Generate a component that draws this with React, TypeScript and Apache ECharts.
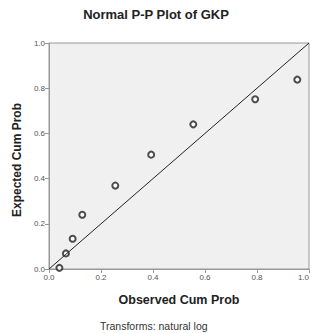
import React, { useEffect, useRef } from "react";
import * as echarts from "echarts";

const observed = [0.04, 0.065, 0.091, 0.128, 0.255, 0.393, 0.555, 0.793, 0.955];
const expected = [0.005, 0.069, 0.134, 0.24, 0.369, 0.506, 0.64, 0.751, 0.838];
const refLine = [[0, 0], [1, 1]];
const tickLabels = ["0.0", "0.2", "0.4", "0.6", "0.8", "1.0"];

export default function App() {
  const ref = useRef<HTMLDivElement>(null);
  useEffect(() => {
    if (!ref.current) return;
    const chart = echarts.init(ref.current, null, { renderer: "svg" });
    const font = "Liberation Sans, Arial, sans-serif";
    const fmt = (v: number) => tickLabels[Math.round(v * 5)] ?? String(v);
    chart.setOption({
      animation: false,
      backgroundColor: "#ffffff",
      title: [
        {
          text: "Normal P-P Plot of GKP",
          left: "center",
          top: 3,
          textStyle: { fontFamily: font, fontSize: 13, fontWeight: "bold", color: "#222" },
        },
        {
          text: "Transforms: natural log",
          left: 95,
          top: 315,
          textStyle: { fontFamily: font, fontSize: 10.5, fontWeight: "normal", color: "#333" },
        },
      ],
      grid: {
        left: 49,
        right: 3,
        top: 43,
        bottom: 64,
        outerBoundsMode: "none",
        containLabel: false,
        show: true,
        backgroundColor: "#f0f0f0",
        borderColor: "#999",
        borderWidth: 1,
      },
      xAxis: {
        type: "value",
        min: 0,
        max: 1,
        interval: 0.2,
        name: "Observed Cum Prob",
        nameLocation: "middle",
        nameGap: 24,
        nameTextStyle: { fontFamily: font, fontSize: 12.5, fontWeight: "bold", color: "#222", padding: [0, 0, 0, 0] },
        axisLine: { show: true, lineStyle: { color: "#999" } },
        axisTick: { show: true, length: 4, lineStyle: { color: "#999" } },
        splitLine: { show: false },
        axisLabel: { formatter: fmt, fontFamily: font, fontSize: 8, color: "#555", margin: 4, alignMaxLabel: "right" },
      },
      yAxis: {
        type: "value",
        min: 0,
        max: 1,
        interval: 0.2,
        name: "Expected Cum Prob",
        nameLocation: "middle",
        nameGap: 21,
        nameTextStyle: { fontFamily: font, fontSize: 12, fontWeight: "bold", color: "#222", padding: [0, 8, 0, 0] },
        axisLine: { show: true, lineStyle: { color: "#999" } },
        axisTick: { show: true, length: 4, lineStyle: { color: "#999" } },
        splitLine: { show: false },
        axisLabel: { formatter: fmt, fontFamily: font, fontSize: 8, color: "#555", margin: 4 },
      },
      series: [
        {
          type: "line",
          data: refLine,
          symbol: "none",
          lineStyle: { color: "#222", width: 1 },
          silent: true,
        },
        {
          type: "scatter",
          data: observed.map((x, i) => [x, expected[i]]),
          symbol: "emptyCircle",
          symbolSize: 6,
          itemStyle: { color: "#222", borderColor: "#222", borderWidth: 1.5 },
        },
      ],
    });
    return () => chart.dispose();
  }, []);
  return <div ref={ref} style={{ position: "fixed", left: 0, top: 0, width: 312, height: 333 }} />;
}
